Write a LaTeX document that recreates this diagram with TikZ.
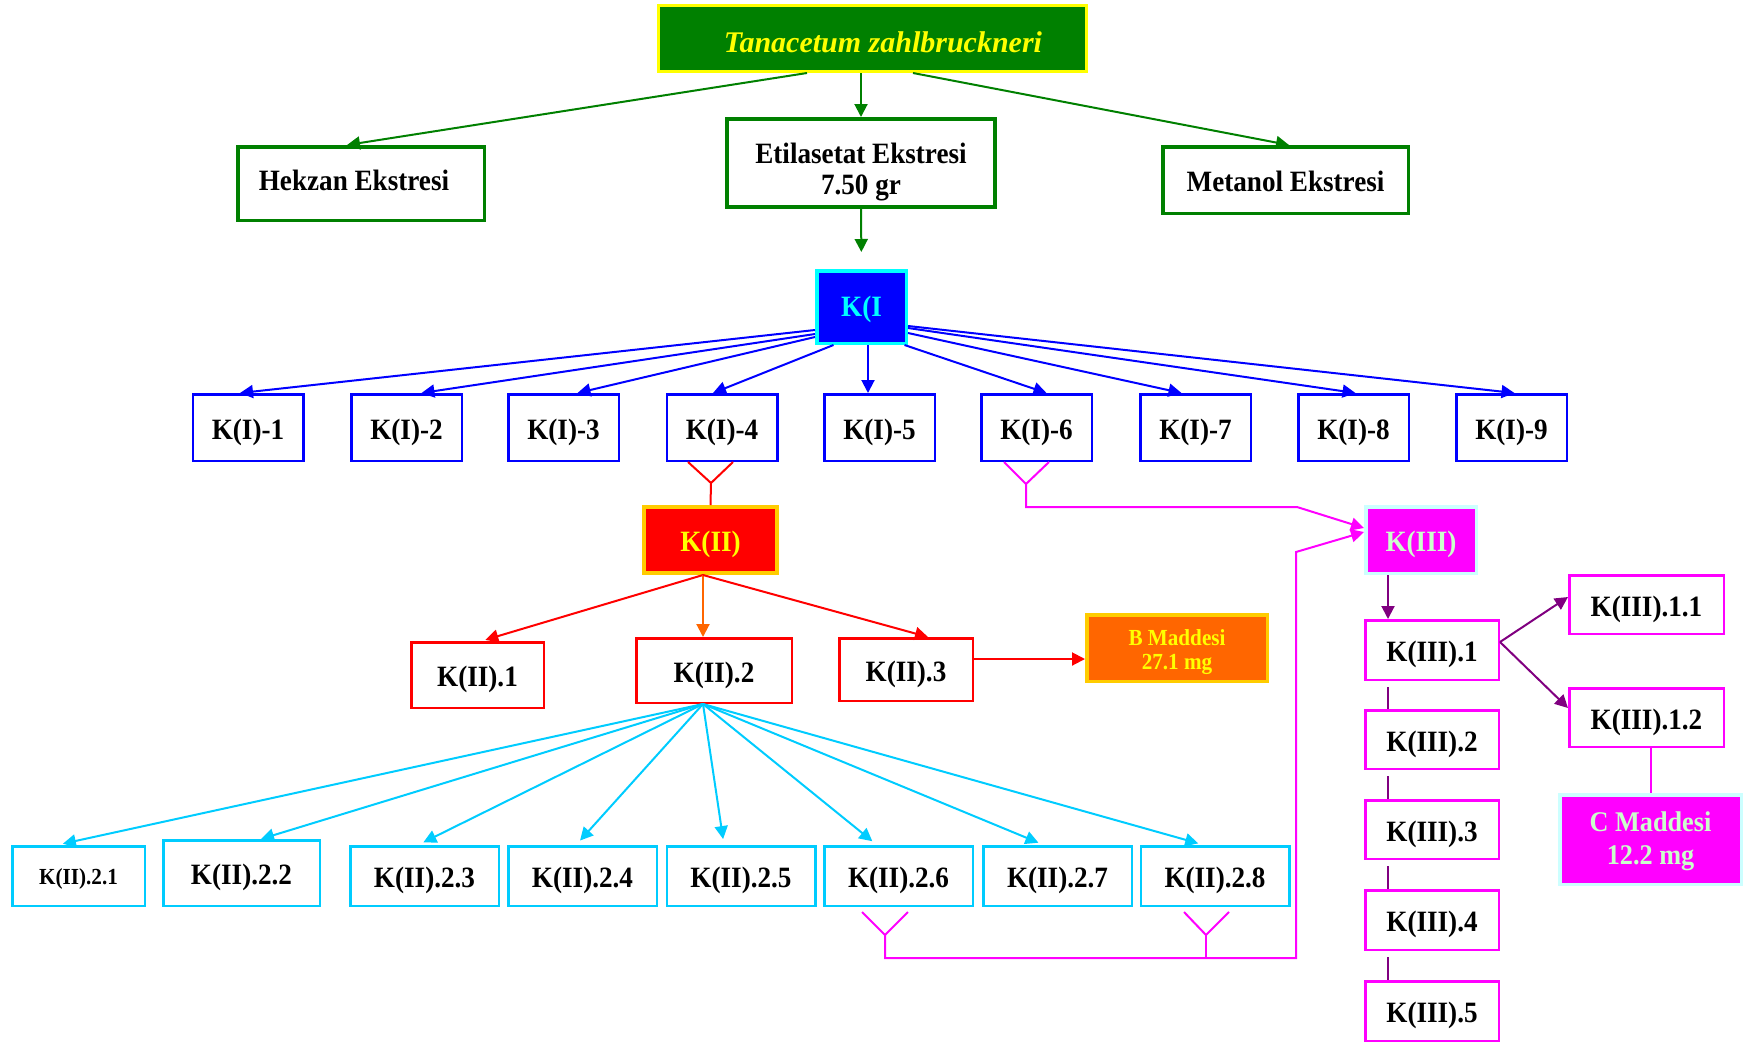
\documentclass[tikz,border=0pt]{standalone}
\usepackage{fontspec}
\setmainfont{Liberation Serif}
\newfontfamily\labelfont[FakeStretch=0.92]{Liberation Serif}
\usetikzlibrary{arrows.meta}

\definecolor{dgreen}{HTML}{008000}
\definecolor{gold}{HTML}{FFCC00}
\definecolor{borange}{HTML}{FF6600}
\definecolor{skyc}{HTML}{00CCFF}
\definecolor{mint}{HTML}{CCFFCC}
\definecolor{paleblue}{HTML}{CCFFFF}
\definecolor{purp}{HTML}{800080}
\definecolor{mag}{HTML}{FF00FF}
\definecolor{aqua}{HTML}{00FFFF}
\definecolor{lemon}{HTML}{FFFF00}
\definecolor{pblue}{HTML}{0000FF}
\definecolor{pred}{HTML}{FF0000}

\tikzset{
  kbox/.style={rectangle,draw,inner sep=0pt,align=center,text height=23pt,text depth=0pt,font=\labelfont\bfseries\fontsize{29.5}{33}\selectfont},
  twoline/.style={text height=,text depth=},
  toarrow/.style={-{Triangle[length=13pt,width=13pt]}},
}

\begin{document}
\begin{tikzpicture}[x=1pt,y=-1pt,line width=2pt]
\useasboundingbox (0,0) rectangle (1745,1045);

% extracts
\begin{scope}[every node/.style={kbox,draw=dgreen,line width=3.5pt}]
  \node[fill=dgreen,draw=lemon,line width=3pt,text=lemon,text height=27pt,font=\bfseries\itshape\fontsize{30}{34}\selectfont,minimum width=428pt,minimum height=66pt] (tz) at (872.5,38.5) {\hspace*{21pt}Tanacetum zahlbruckneri};
  \node[text height=20pt,text depth=6pt,minimum width=246.5pt,minimum height=73.5pt] (hek) at (361,183.5) {Hekzan Ekstresi\hspace*{14pt}};
  \node[twoline,line width=4pt,minimum width=268pt,minimum height=88pt,font=\labelfont\bfseries\fontsize{29.5}{31}\selectfont] (et) at (861,163) {\rule{0pt}{37.5pt}Etilasetat Ekstresi\\7.50 gr};
  \node[minimum width=245.5pt,minimum height=66.5pt] (met) at (1285.5,180) {Metanol Ekstresi};
\end{scope}
\begin{scope}[every edge/.style={draw=dgreen,line width=2pt,toarrow}]
  \draw ([xshift=-65.5pt]tz.south) edge ([xshift=-14pt]hek.north);
  \draw ([xshift=-11.5pt]tz.south) edge (et.north);
  \draw ([xshift=40.5pt]tz.south) edge ([xshift=3.5pt]met.north);
\end{scope}

% K(I)
\begin{scope}[every node/.style={kbox,draw=pblue,line width=2.5pt,minimum width=110.5pt,minimum height=66.5pt}]
  \node[fill=pblue,draw=aqua,text=aqua,text height=19.5pt,line width=3.5pt,minimum width=89.5pt,minimum height=72.5pt] (kI) at (861.5,307) {K(I};
  \node (kI1) at (248,427.5) {K(I)-1};
  \node (kI2) at (406.5,427.5) {K(I)-2};
  \node (kI3) at (563.5,427.5) {K(I)-3};
  \node (kI4) at (722,427.5) {K(I)-4};
  \node (kI5) at (879.5,427.5) {K(I)-5};
  \node (kI6) at (1036.5,427.5) {K(I)-6};
  \node (kI7) at (1195.5,427.5) {K(I)-7};
  \node (kI8) at (1353.5,427.5) {K(I)-8};
  \node (kI9) at (1511.5,427.5) {K(I)-9};
\end{scope}
\draw[dgreen,toarrow,shorten >=17pt] (et.south) -- (kI.north);
\begin{scope}[every edge/.style={draw=pblue,line width=2pt,toarrow}]
  \draw ([yshift=-23pt]kI.west) edge ([xshift=-8pt]kI1.north);
  \draw ([yshift=-27pt]kI.west) edge ([xshift=15pt]kI2.north);
  \draw ([yshift=-30pt]kI.west) edge ([xshift=14pt]kI3.north);
  \draw ([xshift=-28pt]kI.south) edge ([xshift=-9pt]kI4.north);
  \draw ([xshift=6.5pt]kI.south) edge ([xshift=-11.5pt]kI5.north);
  \draw ([xshift=43pt]kI.south) edge ([xshift=10pt]kI6.north);
  \draw ([yshift=-26pt]kI.east) edge ([xshift=-14pt]kI7.north);
  \draw ([yshift=-21pt]kI.east) edge ([xshift=2pt]kI8.north);
  \draw ([yshift=-19pt]kI.east) edge ([xshift=3pt]kI9.north);
\end{scope}

% K(II)
\begin{scope}[every node/.style={kbox,draw=pred,line width=2.5pt}]
  \node[fill=pred,draw=gold,text=lemon,line width=4pt,minimum width=133pt,minimum height=66pt] (kII) at (710.5,540) {K(II)};
  \node[minimum width=132.5pt,minimum height=65.5pt] (kII1) at (477.5,675) {K(II).1};
  \node[minimum width=155.5pt,minimum height=64.5pt] (kII2) at (714,670.5) {K(II).2};
  \node[minimum width=133.5pt,minimum height=62.5pt] (kII3) at (906,669.5) {K(II).3};
  \node[twoline,fill=borange,draw=gold,text=lemon,line width=3.5pt,minimum width=180.5pt,minimum height=66.5pt,font=\labelfont\bfseries\fontsize{23}{24}\selectfont] (bmad) at (1177,648) {\rule{0pt}{25pt}B Maddesi\\27.1 mg};
\end{scope}
\coordinate (y4) at (711,483);
\draw[pred] ([xshift=-34pt]kI4.south) -- (y4) -- ([xshift=11pt]kI4.south);
\draw[pred] (y4) -- (kII.north);
\begin{scope}[every edge/.style={draw,line width=2pt,toarrow}]
  \draw[pred] ([xshift=-7.5pt]kII.south) edge[shorten >=4pt] ([xshift=4pt]kII1.north);
  \draw[borange] ([xshift=-7.5pt]kII.south) edge ([xshift=-11pt]kII2.north);
  \draw[pred] ([xshift=-7.5pt]kII.south) edge ([xshift=22pt]kII3.north);
  \draw[pred] ([yshift=10.5pt]kII3.east) edge ([yshift=-11pt]bmad.west);
\end{scope}

% K(II).2 fractions
\begin{scope}[every node/.style={kbox,draw=skyc,line width=2.5pt,minimum width=148.5pt,minimum height=59.5pt}]
  \node[minimum width=132.5pt,text height=17pt,font=\labelfont\bfseries\fontsize{23}{26}\selectfont] (kII21) at (78.5,876) {K(II).2.1};
  \node[minimum width=156.5pt,minimum height=65.5pt] (kII22) at (241.5,873) {K(II).2.2};
  \node (kII23) at (424.5,876) {K(II).2.3};
  \node (kII24) at (582.5,876) {K(II).2.4};
  \node (kII25) at (741,876) {K(II).2.5};
  \node (kII26) at (898.5,876) {K(II).2.6};
  \node (kII27) at (1057.5,876) {K(II).2.7};
  \node (kII28) at (1215,876) {K(II).2.8};
\end{scope}
\begin{scope}[every edge/.style={draw=skyc,line width=2pt,toarrow,shorten >=6pt}]
  \draw ([xshift=-11pt]kII2.south) edge ([xshift=-21.5pt]kII21.north);
  \draw ([xshift=-11pt]kII2.south) edge[shorten >=0pt] ([xshift=19.5pt]kII22.north);
  \draw ([xshift=-11pt]kII2.south) edge ([xshift=-6.5pt]kII23.north);
  \draw ([xshift=-11pt]kII2.south) edge ([xshift=-6.5pt]kII24.north);
  \draw ([xshift=-11pt]kII2.south) edge ([xshift=-17pt]kII25.north);
  \draw ([xshift=-11pt]kII2.south) edge ([xshift=-21.5pt]kII26.north);
  \draw ([xshift=-11pt]kII2.south) edge ([xshift=-13.5pt]kII27.north);
  \draw ([xshift=-11pt]kII2.south) edge ([xshift=-11pt]kII28.north);
\end{scope}

% K(III)
\begin{scope}[every node/.style={kbox,draw=mag,line width=2.5pt,minimum width=133.5pt,minimum height=59.5pt}]
  \node[fill=mag,draw=paleblue,text=mint,line width=3.5pt,minimum width=110.5pt,minimum height=66.5pt] (kIII) at (1421,540) {K(III)};
  \node (kIII1) at (1432,650) {K(III).1};
  \node[minimum height=58.5pt] (kIII2) at (1432,739.5) {K(III).2};
  \node[minimum height=58.5pt] (kIII3) at (1432,829.5) {K(III).3};
  \node (kIII4) at (1432,920) {K(III).4};
  \node (kIII5) at (1432,1011) {K(III).5};
  \node[minimum width=154.5pt,minimum height=58.5pt] (kIII11) at (1646.5,604.5) {K(III).1.1};
  \node[minimum width=154.5pt,minimum height=58.5pt] (kIII12) at (1646.5,717.5) {K(III).1.2};
  \node[twoline,fill=mag,draw=paleblue,text=mint,line width=3.5pt,minimum width=181.5pt,minimum height=89.5pt,font=\labelfont\bfseries\fontsize{28.5}{33}\selectfont] (cmad) at (1650.5,839.5) {\rule{0pt}{22.3pt}C Maddesi\\12.2 mg};
\end{scope}
\coordinate (y6) at (1026,484);
\coordinate (y26) at (885,935);
\coordinate (y28) at (1206,935);
\draw[mag] ([xshift=-32.5pt]kI6.south) -- (y6) -- ([xshift=12.5pt]kI6.south);
\draw[mag,toarrow] (y6) |- (1297,507) -- ([yshift=12pt]kIII.west);
\draw[mag] ([xshift=-36.5pt,yshift=-5pt]kII26.south) -- (y26) -- ([xshift=9.5pt,yshift=-5pt]kII26.south);
\draw[mag] ([xshift=-31pt,yshift=-5pt]kII28.south) -- (y28) -- ([xshift=14pt,yshift=-5pt]kII28.south);
\draw[mag] (y28) -- (1206,958);
\draw[mag,toarrow] (y26) |- (1296,958) -- (1296,552) -- ([yshift=8pt]kIII.west);
\begin{scope}[every edge/.style={draw=purp,line width=2pt,toarrow}]
  \draw ([xshift=-33pt]kIII.south) edge ([xshift=-44pt]kIII1.north);
  \draw ([yshift=8pt]kIII1.east) edge ([yshift=7.5pt]kIII11.west);
  \draw ([yshift=8pt]kIII1.east) edge ([yshift=9.5pt]kIII12.west);
\end{scope}
\begin{scope}[purp,line width=1.5pt]
  \draw ([xshift=-44pt,yshift=-6pt]kIII1.south) -- ([xshift=-44pt]kIII2.north);
  \draw ([xshift=-44pt,yshift=-6pt]kIII2.south) -- ([xshift=-44pt]kIII3.north);
  \draw ([xshift=-44pt,yshift=-6pt]kIII3.south) -- ([xshift=-44pt]kIII4.north);
  \draw ([xshift=-44pt,yshift=-6pt]kIII4.south) -- ([xshift=-44pt]kIII5.north);
\end{scope}
\draw[mag] ([xshift=4pt]kIII12.south) -- (cmad.north);
\end{tikzpicture}
\end{document}
